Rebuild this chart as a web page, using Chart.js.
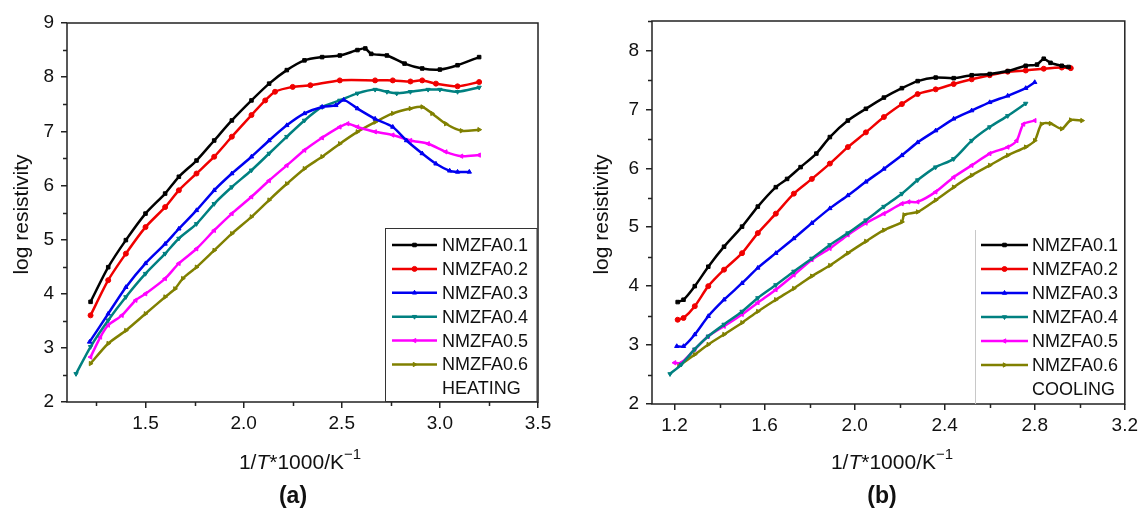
<!DOCTYPE html>
<html>
<head>
<meta charset="utf-8">
<script src="https://cdn.jsdelivr.net/npm/chart.js@4.4.1/dist/chart.umd.min.js"></script>
<style>
  html, body { margin: 0; padding: 0; background: #fff; }
  #wrap { position: relative; width: 1142px; height: 512px; overflow: hidden; }
  #heatChart { position: absolute; left: 0; top: 0; }
  #coolChart { position: absolute; left: 580px; top: 0; }
</style>
</head>
<body>
<div id="wrap">
  <canvas id="heatChart" width="580" height="512"></canvas>
  <canvas id="coolChart" width="562" height="512"></canvas>
</div>
<script>
// -------------------- Data --------------------
const seriesNames = ['NMZFA0.1', 'NMZFA0.2', 'NMZFA0.3', 'NMZFA0.4', 'NMZFA0.5', 'NMZFA0.6'];

// heating run, [1/T*1000, log resistivity]
const heating01 = [[1.22,3.85],[1.31,4.49],[1.40,4.99],[1.50,5.48],[1.60,5.85],[1.67,6.16],[1.76,6.46],[1.85,6.83],[1.94,7.20],[2.04,7.57],[2.13,7.88],[2.22,8.13],[2.31,8.31],[2.40,8.37],[2.49,8.40],[2.58,8.50],[2.62,8.53],[2.65,8.43],[2.73,8.40],[2.82,8.25],[2.91,8.16],[3.00,8.14],[3.09,8.22],[3.20,8.37]];
const heating02 = [[1.22,3.60],[1.31,4.25],[1.40,4.74],[1.50,5.23],[1.60,5.60],[1.67,5.91],[1.76,6.22],[1.85,6.53],[1.94,6.90],[2.04,7.30],[2.11,7.57],[2.16,7.73],[2.25,7.82],[2.34,7.85],[2.49,7.94],[2.67,7.94],[2.76,7.94],[2.85,7.92],[2.91,7.94],[2.98,7.88],[3.09,7.83],[3.20,7.91]];
const heating03 = [[1.215,3.11],[1.31,3.63],[1.40,4.12],[1.50,4.56],[1.60,4.92],[1.67,5.20],[1.76,5.54],[1.85,5.91],[1.94,6.22],[2.04,6.53],[2.13,6.83],[2.22,7.11],[2.31,7.33],[2.40,7.45],[2.47,7.48],[2.51,7.58],[2.58,7.42],[2.67,7.23],[2.76,7.08],[2.83,6.83],[2.91,6.59],[2.98,6.40],[3.05,6.27],[3.09,6.25],[3.15,6.25]];
const heating04 = [[1.146,2.52],[1.22,3.02],[1.31,3.51],[1.40,3.94],[1.50,4.37],[1.60,4.74],[1.67,5.02],[1.76,5.29],[1.85,5.66],[1.94,5.97],[2.04,6.28],[2.13,6.59],[2.22,6.90],[2.31,7.20],[2.40,7.45],[2.49,7.57],[2.58,7.70],[2.67,7.77],[2.73,7.73],[2.78,7.70],[2.85,7.73],[2.94,7.77],[3.00,7.77],[3.09,7.73],[3.20,7.81]];
const heating05 = [[1.22,2.83],[1.27,3.20],[1.31,3.42],[1.38,3.60],[1.45,3.88],[1.50,4.00],[1.60,4.28],[1.67,4.56],[1.76,4.83],[1.85,5.17],[1.94,5.48],[2.04,5.79],[2.13,6.09],[2.22,6.37],[2.31,6.65],[2.40,6.88],[2.49,7.08],[2.53,7.14],[2.58,7.08],[2.67,6.99],[2.76,6.93],[2.85,6.83],[2.94,6.77],[3.03,6.62],[3.11,6.54],[3.20,6.56]];
const heating06 = [[1.22,2.71],[1.31,3.08],[1.40,3.32],[1.50,3.63],[1.60,3.94],[1.65,4.09],[1.69,4.28],[1.76,4.49],[1.85,4.80],[1.94,5.11],[2.04,5.42],[2.13,5.73],[2.22,6.03],[2.31,6.31],[2.40,6.53],[2.49,6.77],[2.58,6.99],[2.67,7.17],[2.76,7.33],[2.85,7.42],[2.91,7.45],[2.96,7.33],[3.03,7.14],[3.11,7.01],[3.20,7.03]];

// cooling run
const cooling01 = [[1.214,3.73],[1.24,3.77],[1.29,4.00],[1.35,4.33],[1.42,4.67],[1.50,5.01],[1.57,5.35],[1.65,5.68],[1.70,5.82],[1.76,6.02],[1.83,6.25],[1.89,6.53],[1.97,6.81],[2.05,7.01],[2.13,7.20],[2.21,7.36],[2.28,7.48],[2.36,7.54],[2.44,7.53],[2.52,7.58],[2.60,7.60],[2.68,7.65],[2.76,7.74],[2.81,7.76],[2.84,7.86],[2.87,7.79],[2.92,7.74],[2.95,7.72]];
const cooling02 = [[1.214,3.43],[1.24,3.46],[1.29,3.66],[1.35,4.00],[1.42,4.28],[1.50,4.56],[1.57,4.90],[1.65,5.23],[1.73,5.57],[1.81,5.82],[1.89,6.08],[1.97,6.36],[2.05,6.61],[2.13,6.87],[2.21,7.09],[2.28,7.26],[2.36,7.34],[2.44,7.43],[2.52,7.51],[2.60,7.58],[2.68,7.64],[2.76,7.66],[2.84,7.69],[2.92,7.71],[2.96,7.70]];
const cooling03 = [[1.21,2.98],[1.24,2.98],[1.29,3.18],[1.35,3.49],[1.42,3.77],[1.50,4.05],[1.57,4.31],[1.65,4.56],[1.73,4.81],[1.81,5.07],[1.89,5.32],[1.97,5.54],[2.05,5.77],[2.13,5.99],[2.21,6.22],[2.28,6.44],[2.36,6.64],[2.44,6.84],[2.52,6.98],[2.60,7.12],[2.68,7.23],[2.76,7.36],[2.80,7.46]];
const cooling04 = [[1.18,2.51],[1.23,2.67],[1.29,2.93],[1.35,3.15],[1.42,3.35],[1.50,3.57],[1.57,3.80],[1.65,4.02],[1.73,4.25],[1.81,4.47],[1.89,4.70],[1.97,4.90],[2.05,5.12],[2.13,5.35],[2.21,5.57],[2.28,5.80],[2.36,6.02],[2.44,6.16],[2.52,6.47],[2.60,6.70],[2.68,6.89],[2.76,7.10]];
const cooling05 = [[1.20,2.70],[1.23,2.70],[1.29,2.93],[1.35,3.15],[1.42,3.32],[1.50,3.52],[1.57,3.72],[1.65,3.94],[1.73,4.19],[1.81,4.45],[1.89,4.64],[1.97,4.87],[2.05,5.07],[2.13,5.23],[2.21,5.40],[2.24,5.43],[2.28,5.43],[2.36,5.60],[2.44,5.85],[2.52,6.05],[2.60,6.25],[2.68,6.36],[2.72,6.47],[2.75,6.75],[2.80,6.81]];
const cooling06 = [[1.22,2.65],[1.29,2.84],[1.35,3.01],[1.42,3.18],[1.50,3.38],[1.57,3.57],[1.65,3.77],[1.73,3.96],[1.81,4.17],[1.89,4.35],[1.97,4.56],[2.05,4.76],[2.13,4.95],[2.21,5.09],[2.22,5.21],[2.28,5.26],[2.36,5.46],[2.44,5.68],[2.52,5.88],[2.60,6.05],[2.68,6.22],[2.76,6.36],[2.80,6.47],[2.83,6.75],[2.87,6.76],[2.92,6.67],[2.96,6.82],[3.01,6.81]];

const heatXTicks = [1.5, 2.0, 2.5, 3.0, 3.5];
const heatXMinor = [1.25, 1.75, 2.25, 2.75, 3.25];
const heatYTicks = [2, 3, 4, 5, 6, 7, 8, 9];
const heatYMinor = [2.5, 3.5, 4.5, 5.5, 6.5, 7.5, 8.5];
const coolXTicks = [1.2, 1.6, 2.0, 2.4, 2.8, 3.2];
const coolXMinor = [1.4, 1.8, 2.2, 2.6, 3.0];
const coolYTicks = [2, 3, 4, 5, 6, 7, 8];
const coolYMinor = [2.5, 3.5, 4.5, 5.5, 6.5, 7.5, 8.5];

// -------------------- Styles --------------------
const seriesColors = ['#000000', '#f00000', '#0000f0', '#008080', '#ff00ff', '#808000'];
const markerStyles = ['rect', 'circle', 'triangle', 'triangle', 'triangle', 'triangle'];
const markerRotation = [0, 0, 0, 180, 270, 90];
const FONT = 'Arial, "Liberation Sans", Helvetica, sans-serif';
const INK = '#222';

function makeDatasets(seriesList) {
  return seriesList.map((pts, i) => ({
    label: seriesNames[i],
    data: pts.map(p => ({ x: p[0], y: p[1] })),
    borderColor: seriesColors[i],
    backgroundColor: seriesColors[i],
    borderWidth: 2.5,
    pointStyle: markerStyles[i],
    rotation: markerRotation[i],
    pointRadius: 2.5,
    pointBorderWidth: 1,
    tension: 0.25,
    fill: false
  }));
}

// -------------------- Decoration plugin --------------------
const panelDeco = {
  id: 'panelDeco',
  afterDraw(chart, args, opts) {
    const ctx = chart.ctx;
    const area = chart.chartArea;
    const xs = chart.scales.x, ys = chart.scales.y;
    ctx.save();

    // frame
    ctx.strokeStyle = INK;
    ctx.lineWidth = 1.5;
    ctx.strokeRect(area.left, area.top, area.right - area.left, area.bottom - area.top);

    // minor ticks
    ctx.beginPath();
    opts.xMinor.forEach(v => {
      const px = Math.round(xs.getPixelForValue(v)) + 0.5;
      ctx.moveTo(px, area.bottom);
      ctx.lineTo(px, area.bottom + 4);
    });
    opts.yMinor.forEach(v => {
      const py = Math.round(ys.getPixelForValue(v)) + 0.5;
      ctx.moveTo(area.left, py);
      ctx.lineTo(area.left - 4, py);
    });
    ctx.stroke();

    // y title
    ctx.fillStyle = '#111';
    ctx.save();
    ctx.translate(opts.yTitleX, (area.top + area.bottom) / 2 + 2);
    ctx.rotate(-Math.PI / 2);
    ctx.font = '21px ' + FONT;
    ctx.textAlign = 'center';
    ctx.textBaseline = 'middle';
    ctx.fillText('log resistivity', 0, 0);
    ctx.restore();

    // x title: 1/T*1000/K^-1
    const parts = [
      { t: '1/', f: '21px ' + FONT, dy: 0 },
      { t: 'T', f: 'italic 21px ' + FONT, dy: 0 },
      { t: '*1000/K', f: '21px ' + FONT, dy: 0 },
      { t: '\u22121', f: '15px ' + FONT, dy: -8 }
    ];
    let total = 0;
    parts.forEach(p => { ctx.font = p.f; p.w = ctx.measureText(p.t).width; total += p.w; });
    let x = opts.xTitleX - total / 2;
    ctx.textAlign = 'left';
    ctx.textBaseline = 'middle';
    parts.forEach(p => {
      ctx.font = p.f;
      ctx.fillText(p.t, x, opts.xTitleY + p.dy);
      x += p.w;
    });

    // panel letter
    ctx.font = 'bold 23px ' + FONT;
    ctx.textAlign = 'center';
    ctx.fillText(opts.panel, opts.panelX, opts.panelY);

    // legend
    const lg = opts.legend;
    if (lg.box) {
      ctx.strokeStyle = '#333';
      ctx.lineWidth = 1;
      ctx.strokeRect(lg.boxLeft + 0.5, lg.boxTop + 0.5, area.right - lg.boxLeft - 1.5, area.bottom - lg.boxTop - 1);
    } else {
      ctx.strokeStyle = '#c8c8c8';
      ctx.lineWidth = 1;
      ctx.beginPath();
      ctx.moveTo(lg.boxLeft + 0.5, lg.boxTop);
      ctx.lineTo(lg.boxLeft + 0.5, area.bottom);
      ctx.stroke();
    }
    chart.data.datasets.forEach((ds, i) => {
      const y = lg.top + i * lg.step;
      ctx.strokeStyle = ds.borderColor;
      ctx.lineWidth = 2.5;
      ctx.beginPath();
      ctx.moveTo(lg.lineX1, y);
      ctx.lineTo(lg.lineX2, y);
      ctx.stroke();
      ctx.fillStyle = ds.backgroundColor;
      ctx.strokeStyle = ds.borderColor;
      ctx.lineWidth = 1;
      Chart.helpers.drawPoint(ctx, { pointStyle: ds.pointStyle, radius: 2.5, rotation: ds.rotation, borderWidth: 1 },
        (lg.lineX1 + lg.lineX2) / 2, y);
      ctx.fillStyle = '#111';
      ctx.font = '18px ' + FONT;
      ctx.textAlign = 'left';
      ctx.textBaseline = 'middle';
      ctx.fillText(ds.label, lg.textX, y + 1);
    });
    ctx.fillStyle = '#111';
    ctx.font = '18px ' + FONT;
    ctx.fillText(opts.note, lg.textX, lg.top + 6 * lg.step + 1);

    ctx.restore();
  }
};

function axisOptions(min, max, tickValues, size, isX, pad) {
  return {
    type: 'linear',
    min: min,
    max: max,
    afterBuildTicks: scale => { scale.ticks = tickValues.map(v => ({ value: v })); },
    afterFit: scale => { if (isX) scale.height = size; else scale.width = size; },
    border: { display: false },
    grid: { drawOnChartArea: false, drawTicks: true, tickLength: 6, color: INK, lineWidth: 1.5 },
    ticks: {
      color: '#111',
      font: { family: FONT, size: 19 },
      padding: pad,
      maxRotation: 0,
      autoSkip: false,
      callback: v => isX ? v.toFixed(1) : String(v)
    }
  };
}

function buildChart(canvasId, seriesList, cfg) {
  return new Chart(document.getElementById(canvasId), {
    type: 'line',
    data: { datasets: makeDatasets(seriesList) },
    options: {
      responsive: false,
      animation: false,
      devicePixelRatio: 1,
      layout: { padding: cfg.padding },
      scales: {
        x: axisOptions(cfg.xMin, cfg.xMax, cfg.xTicks, cfg.xAxisHeight, true, 4),
        y: axisOptions(cfg.yMin, cfg.yMax, cfg.yTicks, cfg.yAxisWidth, false, 7)
      },
      plugins: {
        legend: { display: false },
        tooltip: { enabled: false },
        panelDeco: cfg.deco
      }
    },
    plugins: [panelDeco]
  });
}

// -------------------- Panels --------------------
document.addEventListener('DOMContentLoaded', () => {
  buildChart('heatChart', [heating01, heating02, heating03, heating04, heating05, heating06], {
    xMin: 1.1, xMax: 3.5, yMin: 2, yMax: 9,
    xTicks: heatXTicks, yTicks: heatYTicks,
    padding: { left: 0, top: 23, right: 42, bottom: 0 },
    yAxisWidth: 67, xAxisHeight: 110,
    deco: {
      xMinor: heatXMinor, yMinor: heatYMinor,
      yTitleX: 22, xTitleX: 300, xTitleY: 463,
      panel: '(a)', panelX: 293, panelY: 497,
      note: 'HEATING',
      legend: { box: true, boxLeft: 385, boxTop: 228, top: 245, step: 23.9, lineX1: 392, lineX2: 437, textX: 442 }
    }
  });

  buildChart('coolChart', [cooling01, cooling02, cooling03, cooling04, cooling05, cooling06], {
    xMin: 1.1, xMax: 3.2, yMin: 2, yMax: 8.5,
    xTicks: coolXTicks, yTicks: coolYTicks,
    padding: { left: 0, top: 21, right: 15, bottom: 0 },
    yAxisWidth: 72, xAxisHeight: 108,
    deco: {
      xMinor: coolXMinor, yMinor: coolYMinor,
      yTitleX: 22, xTitleX: 312, xTitleY: 463,
      panel: '(b)', panelX: 302, panelY: 497,
      note: 'COOLING',
      legend: { box: false, boxLeft: 395, boxTop: 230, top: 245, step: 24, lineX1: 401, lineX2: 448, textX: 452 }
    }
  });
});
</script>
</body>
</html>
